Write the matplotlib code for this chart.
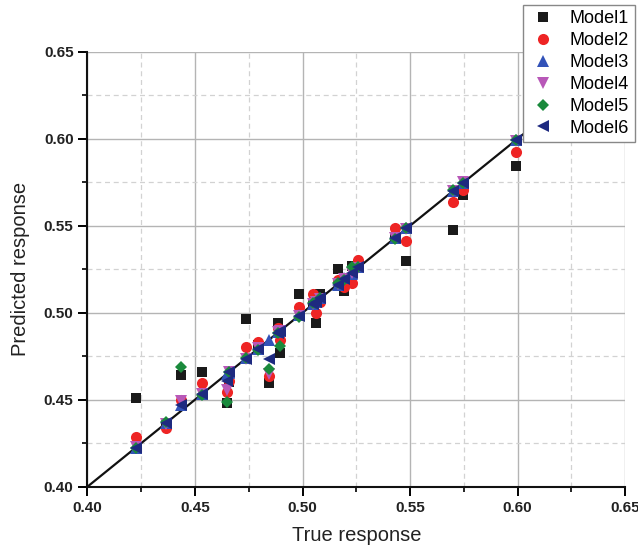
import matplotlib
matplotlib.use("Agg")
import matplotlib.pyplot as plt
from matplotlib.ticker import MultipleLocator

plt.rcParams['font.family'] = ['Liberation Sans', 'DejaVu Sans']

# true response values (shared by all models)
true_resp = [0.4225, 0.4365, 0.4435, 0.4532, 0.4648, 0.4660, 0.4735, 0.4792,
             0.4843, 0.4885, 0.4895, 0.4982, 0.5050, 0.5062, 0.5082, 0.5163,
             0.5195, 0.5228, 0.5260, 0.5430, 0.5483, 0.5700, 0.5748, 0.5990]

model1 = [0.4511, 0.4360, 0.4642, 0.4661, 0.4479, 0.4600, 0.4964, 0.4815,
          0.4598, 0.4943, 0.4770, 0.5108, 0.5055, 0.4943, 0.5106, 0.5251,
          0.5127, 0.5270, 0.5255, 0.5425, 0.5297, 0.5475, 0.5675, 0.5843]
model2 = [0.4284, 0.4339, 0.4498, 0.4594, 0.4546, 0.4607, 0.4805, 0.4834,
          0.4636, 0.4910, 0.4843, 0.5031, 0.5106, 0.4997, 0.5063, 0.5188,
          0.5146, 0.5169, 0.5303, 0.5485, 0.5412, 0.5638, 0.5705, 0.5922]
model3 = [0.4222, 0.4368, 0.4470, 0.4530, 0.4650, 0.4655, 0.4738, 0.4790,
          0.4845, 0.4888, 0.4893, 0.4985, 0.5048, 0.5060, 0.5085, 0.5160,
          0.5198, 0.5225, 0.5262, 0.5428, 0.5485, 0.5702, 0.5745, 0.5992]
model4 = [0.4228, 0.4362, 0.4494, 0.4535, 0.4555, 0.4662, 0.4732, 0.4795,
          0.4650, 0.4890, 0.4897, 0.4980, 0.5052, 0.5064, 0.5080, 0.5165,
          0.5193, 0.5230, 0.5258, 0.5432, 0.5481, 0.5698, 0.5750, 0.5988]
model5 = [0.4220, 0.4370, 0.4687, 0.4528, 0.4487, 0.4658, 0.4740, 0.4788,
          0.4678, 0.4882, 0.4810, 0.4978, 0.5055, 0.5058, 0.5086, 0.5168,
          0.5190, 0.5265, 0.5264, 0.5426, 0.5487, 0.5704, 0.5743, 0.5994]
model6 = [0.4224, 0.4366, 0.4468, 0.4531, 0.4610, 0.4659, 0.4736, 0.4791,
          0.4735, 0.4886, 0.4894, 0.4983, 0.5049, 0.5061, 0.5083, 0.5162,
          0.5196, 0.5227, 0.5261, 0.5429, 0.5484, 0.5701, 0.5747, 0.5991]

series = [("Model1", model1, "s", "#1a1a1a", 7.0),
          ("Model2", model2, "o", "#ee2424", 8.0),
          ("Model3", model3, "^", "#3252b8", 8.0),
          ("Model4", model4, "v", "#b858b8", 8.0),
          ("Model5", model5, "D", "#1a8a3c", 6.5),
          ("Model6", model6, "<", "#1e2a80", 8.0)]

fig = plt.figure(figsize=(6.38, 5.56), dpi=100)
ax = fig.add_axes([0.137, 0.1246, 0.843, 0.7824])

# reference line y = x
ax.plot([0.40, 0.65], [0.40, 0.65], color="#111111", lw=1.6, zorder=2)

for name, vals, mk, col, ms in series:
    ax.plot(true_resp, vals, linestyle="none", marker=mk, color=col,
            markersize=ms, markeredgewidth=0, label=name, zorder=3)

ax.set_xlim(0.40, 0.65)
ax.set_ylim(0.40, 0.65)
ax.xaxis.set_major_locator(MultipleLocator(0.05))
ax.xaxis.set_minor_locator(MultipleLocator(0.025))
ax.yaxis.set_major_locator(MultipleLocator(0.05))
ax.yaxis.set_minor_locator(MultipleLocator(0.025))
ax.xaxis.set_major_formatter(plt.FormatStrFormatter("%.2f"))
ax.yaxis.set_major_formatter(plt.FormatStrFormatter("%.2f"))

ax.grid(which="major", color="#b4b4b4", lw=1.0, linestyle="-", zorder=0)
ax.grid(which="minor", color="#d2d2d2", lw=0.9, linestyle=(0, (4, 3)), zorder=0)
ax.set_axisbelow(True)

for side in ["top", "right"]:
    ax.spines[side].set_visible(False)
for side in ["left", "bottom"]:
    ax.spines[side].set_linewidth(1.5)
    ax.spines[side].set_color("#111111")

ax.tick_params(which="major", direction="out", length=6.5, width=1.4, labelsize=11)
ax.tick_params(which="minor", direction="out", length=3.5, width=1.2)
for lab in ax.get_xticklabels() + ax.get_yticklabels():
    lab.set_fontweight("bold")
    lab.set_color("#222222")

ax.set_xlabel("True response", fontsize=14.5, color="#222222", labelpad=8)
ax.set_ylabel("Predicted response", fontsize=14.5, color="#222222", labelpad=10)

leg = ax.legend(loc="upper left", bbox_to_anchor=(0.8197, 0.991),
                bbox_transform=fig.transFigure, borderaxespad=0,
                fontsize=13, fancybox=False, framealpha=1,
                edgecolor="#888888", labelspacing=0.27, handletextpad=0.7,
                borderpad=0.3, handlelength=1.6)
leg.get_frame().set_linewidth(1.0)
leg.set_zorder(10)

fig.savefig("out.png", dpi=100)
